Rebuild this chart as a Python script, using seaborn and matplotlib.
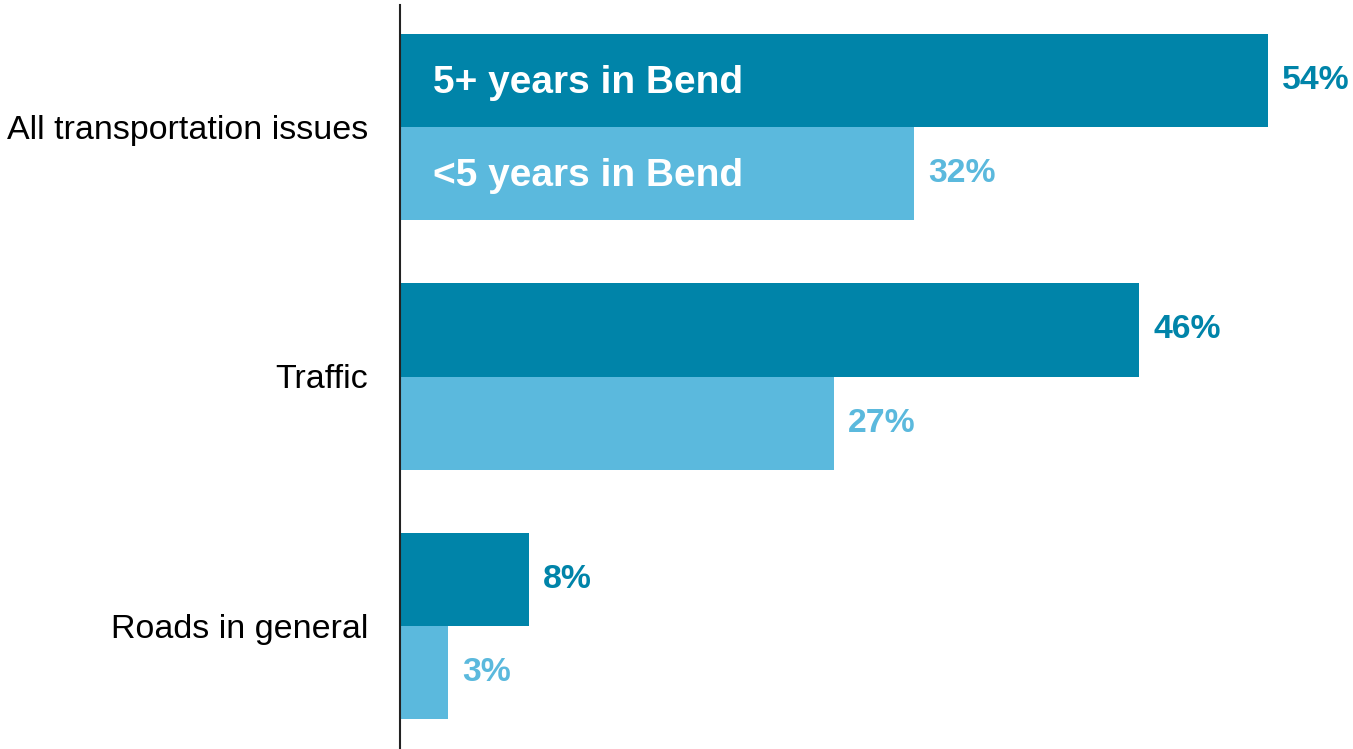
import matplotlib
matplotlib.use("Agg")
import matplotlib.pyplot as plt
import seaborn as sns
import pandas as pd

categories = ["All transportation issues", "Traffic", "Roads in general"]
groups = ["5+ years in Bend", "<5 years in Bend"]
long_term = [54, 46, 8]
short_term = [32, 27, 3]
colors = ["#0084A9", "#5BB9DD"]

df = pd.DataFrame({
    "Issue": categories * 2,
    "Group": [groups[0]] * 3 + [groups[1]] * 3,
    "Pct": long_term + short_term,
})

sns.set_theme(style="white")
plt.rcParams["font.family"] = ["Liberation Sans", "DejaVu Sans"]

fig = plt.figure(figsize=(13.53, 7.49), dpi=100)
ax = fig.add_axes([400 / 1353, 1 / 749, 953 / 1353, 743 / 749])

sns.barplot(data=df, y="Issue", x="Pct", hue="Group", order=categories,
            hue_order=groups, palette=colors, width=0.747, gap=0,
            orient="h", legend=False, ax=ax, saturation=1, linewidth=0)

ax.set_xlim(0, 59.3)
ax.set_ylim(2.49, -0.49)
ax.set_xlabel("")
ax.set_ylabel("")
ax.set_xticks([])
for s in ["top", "right", "bottom"]:
    ax.spines[s].set_visible(False)
ax.spines["left"].set_color("#222222")
ax.spines["left"].set_linewidth(1.5)
ax.tick_params(axis="y", length=0, pad=23, labelsize=24.5, labelcolor="black")

for container, color in zip(ax.containers, colors):
    ax.bar_label(container, labels=[f"{v:.0f}%" for v in container.datavalues],
                 padding=10, fontsize=24.3, fontweight="bold", color=color)

# series names written inside the first pair of bars
half = 0.747 / 4
ax.text(2.05, -half + 0.01, groups[0], color="white", fontsize=28,
        fontweight="bold", va="center", ha="left")
ax.text(2.05, half + 0.01, groups[1], color="white", fontsize=28,
        fontweight="bold", va="center", ha="left")

fig.savefig("out.png", dpi=100)
